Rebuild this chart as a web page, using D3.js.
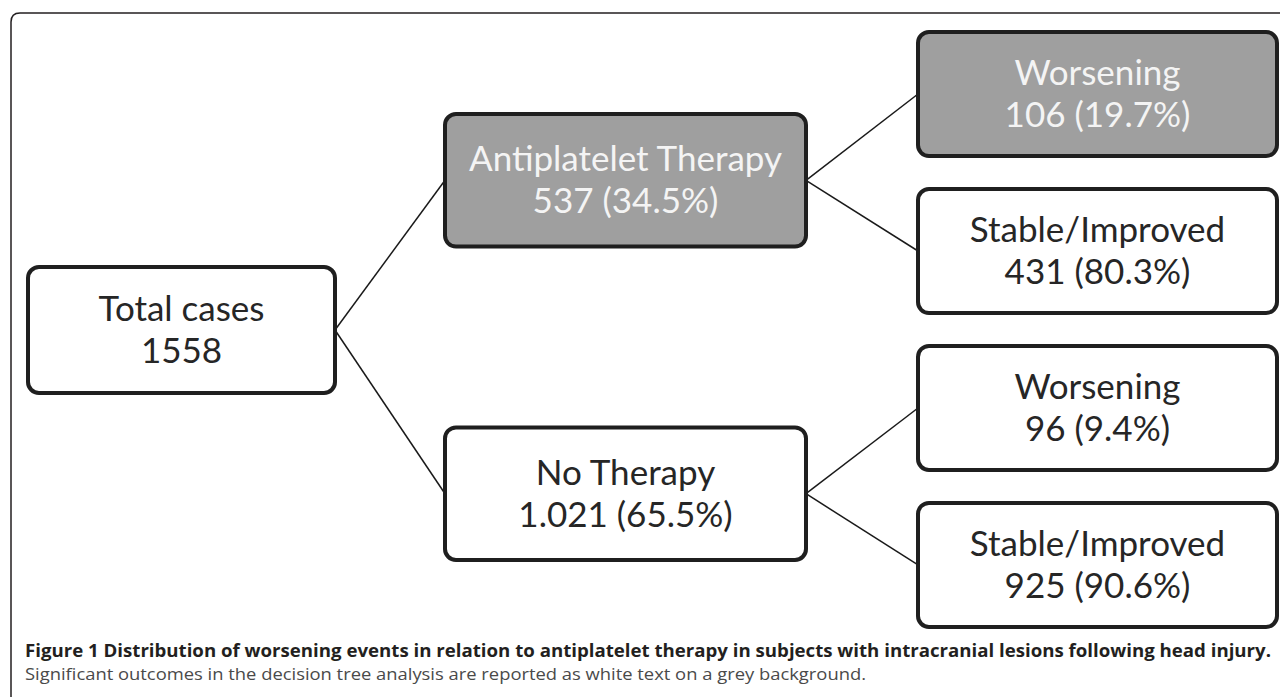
<!DOCTYPE html>
<html lang="en">
	<head>
		<meta charset="utf-8">
		<title>D3: Decision tree</title>
		<script type="text/javascript" src="https://d3js.org/d3.v7.min.js"></script>
		<style type="text/css">
			body {
				margin: 0;
				background: #fff;
			}
			.node rect {
				stroke: #1f1f1f;
				stroke-width: 4;
			}
			.node text {
				font-family: Lato, "Open Sans", sans-serif;
				font-size: 35px;
				text-anchor: middle;
			}
			.link {
				fill: none;
				stroke: #1a1a1a;
				stroke-width: 1.5;
			}
			.frame {
				fill: none;
				stroke: #231f20;
				stroke-width: 1.5;
			}
			.caption {
				font-family: "Open Sans", sans-serif;
				font-size: 17px;
			}
		</style>
	</head>
	<body>
		<div id="chart"></div>
		<script type="text/javascript">
			//Data
			var nodeIds = ["total", "anti", "none", "antiWorse", "antiStable", "noneWorse", "noneStable"];
			var nodeParents = [null, "total", "total", "anti", "anti", "none", "none"];
			var nodeLabels = ["Total cases", "Antiplatelet Therapy", "No Therapy", "Worsening", "Stable/Improved", "Worsening", "Stable/Improved"];
			var nodeCounts = ["1558", "537", "1.021", "106", "431", "96", "925"];
			var nodePercents = [null, "34.5%", "65.5%", "19.7%", "80.3%", "9.4%", "90.6%"];
			var significant = [false, true, false, true, false, false, false];

			var captionTitle = "Figure 1 Distribution of worsening events in relation to antiplatelet therapy in subjects with intracranial lesions following head injury.";
			var captionText = "Significant outcomes in the decision tree analysis are reported as white text on a grey background.";

			//Size
			const width = 1280;
			const height = 697;

			var table = nodeIds.map(function(id, i) {
				return {
					id: id,
					parent: nodeParents[i],
					label: nodeLabels[i],
					value: nodeCounts[i] + (nodePercents[i] ? " (" + nodePercents[i] + ")" : ""),
					sig: significant[i]
				};
			});

			var root = d3.stratify()
						 .id(function(d) { return d.id; })
						 .parentId(function(d) { return d.parent; })(table);

			//Scales: column per depth, band per level
			var xLeft = d3.scaleLinear().domain([0, 1, 2]).range([28, 445, 918]);
			var colWidth = d3.scaleOrdinal().domain([0, 1, 2]).range([307, 361, 359]);

			var levelRanges = [[267, 393], [114, 560], [32, 627]];
			var levelPadding = [0, 0.577, 0.21];
			var yBand = levelRanges.map(function(r, depth) {
				return d3.scaleBand()
						 .domain(root.descendants().filter(function(n) { return n.depth === depth; }).map(function(n) { return n.id; }))
						 .range(r)
						 .paddingInner(levelPadding[depth])
						 .paddingOuter(0);
			});

			root.each(function(n) {
				var s = yBand[n.depth];
				n.x0 = xLeft(n.depth);
				n.w = colWidth(n.depth);
				n.y0 = s(n.id);
				n.h = s.bandwidth();
				n.cy = n.y0 + n.h / 2;
			});

			const svg = d3.select("#chart")
						  .append("svg")
						  .attr("width", width)
						  .attr("height", height);

			//Outer frame
			svg.append("path")
			   .attr("class", "frame")
			   .attr("d", "M11," + (height + 20) + " V22 Q11,13 20,13 H" + (width + 20));

			//Links
			svg.selectAll(".link")
			   .data(root.links())
			   .join("line")
			   .attr("class", "link")
			   .attr("x1", function(d) { return d.source.x0 + d.source.w; })
			   .attr("y1", function(d) { return d.source.cy; })
			   .attr("x2", function(d) { return d.target.x0; })
			   .attr("y2", function(d) { return d.target.cy; });

			//Nodes
			var node = svg.selectAll(".node")
						  .data(root.descendants())
						  .join("g")
						  .attr("class", "node")
						  .attr("transform", function(d) { return "translate(" + d.x0 + "," + d.y0 + ")"; });

			node.append("rect")
				.attr("width", function(d) { return d.w; })
				.attr("height", function(d) { return d.h; })
				.attr("rx", 11)
				.attr("fill", function(d) { return d.data.sig ? "#9f9f9f" : "#ffffff"; });

			node.append("text")
				.attr("x", function(d) { return d.w / 2; })
				.attr("y", function(d) { return d.h / 2 - 9; })
				.attr("fill", function(d) { return d.data.sig ? "#f4f4f4" : "#262626"; })
				.text(function(d) { return d.data.label; });

			node.append("text")
				.attr("x", function(d) { return d.w / 2; })
				.attr("y", function(d) { return d.h / 2 + 33; })
				.attr("fill", function(d) { return d.data.sig ? "#f4f4f4" : "#262626"; })
				.text(function(d) { return d.data.value; });

			//Caption
			svg.append("text")
			   .attr("class", "caption")
			   .attr("x", 25)
			   .attr("y", 657)
			   .attr("font-weight", "bold")
			   .attr("fill", "#231f20")
			   .attr("textLength", 1246)
			   .attr("lengthAdjust", "spacingAndGlyphs")
			   .text(captionTitle);

			svg.append("text")
			   .attr("class", "caption")
			   .attr("x", 25)
			   .attr("y", 680)
			   .attr("fill", "#4a4a4a")
			   .attr("textLength", 841)
			   .attr("lengthAdjust", "spacingAndGlyphs")
			   .text(captionText);
		</script>
	</body>
</html>
